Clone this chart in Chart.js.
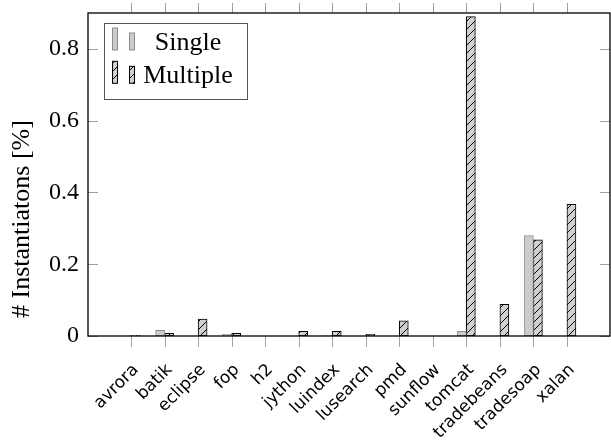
<!DOCTYPE html>
<html>
<head>
<meta charset="utf-8">
<script src="https://cdn.jsdelivr.net/npm/chart.js@4/dist/chart.umd.min.js"></script>
<style>
  html, body { margin: 0; padding: 0; background: #fff; }
  #wrap { width: 611px; height: 441px; }
</style>
</head>
<body>
<div id="wrap"><canvas id="c" width="611" height="441"></canvas></div>
<script>
const categories = ['avrora', 'batik', 'eclipse', 'fop', 'h2', 'jython', 'luindex', 'lusearch', 'pmd', 'sunflow', 'tomcat', 'tradebeans', 'tradesoap', 'xalan'];
const singleValues   = [0, 0.016, 0, 0.005, 0, 0, 0.001, 0, 0, 0, 0.013, 0, 0.28, 0];
const multipleValues = [0.002, 0.0075, 0.047, 0.0075, 0, 0.013, 0.013, 0.005, 0.042, 0, 0.89, 0.088, 0.268, 0.367];
const yTicks = [0, 0.2, 0.4, 0.6, 0.8];
const seriesNames = ['Single', 'Multiple'];
const yTitle = '# Instantiatons [%]';

function makeHatch(bg, line) {
  const s = 8;
  const c = document.createElement('canvas');
  c.width = s; c.height = s;
  const g = c.getContext('2d');
  g.fillStyle = bg; g.fillRect(0, 0, s, s);
  g.strokeStyle = line; g.lineWidth = 1;
  g.beginPath();
  g.moveTo(0, s); g.lineTo(s, 0);
  g.moveTo(-1, 1); g.lineTo(1, -1);
  g.moveTo(s - 1, s + 1); g.lineTo(s + 1, s - 1);
  g.stroke();
  return g.createPattern(c, 'repeat');
}

const SERIF = '"Liberation Serif", "Times New Roman", serif';
const hatch = makeHatch('#d0d0d0', '#000');

const framePlugin = {
  id: 'frame',
  afterDatasetsDraw(chart) {
    const { ctx, chartArea: a, scales } = chart;
    ctx.save();
    ctx.strokeStyle = '#a0a0a0';
    ctx.lineWidth = 1;
    ctx.beginPath();
    scales.y.ticks.forEach(t => {
      const y = Math.round(scales.y.getPixelForValue(t.value)) + 0.5;
      ctx.moveTo(a.left, y); ctx.lineTo(a.left + 10, y);
      ctx.moveTo(a.right - 10, y); ctx.lineTo(a.right, y);
    });
    scales.x.ticks.forEach(t => {
      const x = Math.round(scales.x.getPixelForValue(t.value)) + 0.5;
      ctx.moveTo(x, a.bottom); ctx.lineTo(x, a.bottom + 11);
      ctx.moveTo(x, a.top); ctx.lineTo(x, a.top - 10);
    });
    ctx.stroke();
    ctx.strokeStyle = '#000';
    ctx.lineWidth = 1.3;
    ctx.strokeRect(a.left, a.top, a.right - a.left, a.bottom - a.top);
    ctx.restore();
  },
  afterDraw(chart) {
    const { ctx } = chart;
    ctx.save();
    ctx.translate(22, 219);
    ctx.rotate(-Math.PI / 2);
    ctx.font = '26px ' + SERIF;
    ctx.fillStyle = '#000';
    ctx.textAlign = 'center';
    ctx.textBaseline = 'middle';
    ctx.fillText(yTitle, 0, 0);
    ctx.restore();

    ctx.save();
    const bx = 104, by = 23, bw = 143, bh = 76;
    ctx.fillStyle = '#fff';
    ctx.fillRect(bx, by, bw, bh);
    ctx.strokeStyle = '#555';
    ctx.lineWidth = 1;
    ctx.strokeRect(bx + 0.5, by + 0.5, bw, bh);
    chart.data.datasets.forEach((ds, i) => {
      const base = 50 + i * 33.3;
      [[112.5, 22], [129.5, 17]].forEach(([x, h]) => {
        ctx.fillStyle = ds.backgroundColor;
        ctx.fillRect(x, base - h, 5, h);
        ctx.strokeStyle = ds.borderColor;
        ctx.lineWidth = 1;
        ctx.strokeRect(x, base - h, 5, h);
      });
      ctx.fillStyle = '#000';
      ctx.font = '26px ' + SERIF;
      ctx.textAlign = 'center';
      ctx.textBaseline = 'alphabetic';
      ctx.fillText(ds.label, 188, base);
    });
    ctx.restore();
  }
};

new Chart(document.getElementById('c'), {
  type: 'bar',
  data: {
    datasets: [
      {
        label: seriesNames[0],
        data: singleValues.map((v, i) => ({ x: i, y: v })),
        backgroundColor: '#cccccc',
        borderColor: '#8c8c8c',
        borderWidth: 1,
        borderSkipped: false,
        barThickness: 9
      },
      {
        label: seriesNames[1],
        data: multipleValues.map((v, i) => ({ x: i, y: v })),
        backgroundColor: hatch,
        borderColor: '#000',
        borderWidth: 1,
        borderSkipped: false,
        barThickness: 9
      }
    ]
  },
  options: {
    responsive: false,
    animation: false,
    devicePixelRatio: 1,
    layout: { padding: { top: 13, right: 1, left: 0, bottom: 0 } },
    plugins: { legend: { display: false }, tooltip: { enabled: false } },
    scales: {
      x: {
        type: 'linear',
        min: -1.284,
        max: categories.length - 1 + 1.284,
        offset: false,
        afterBuildTicks: s => { s.ticks = categories.map((_, i) => ({ value: i })); },
        afterFit: s => { s.height = 105; s.paddingLeft = 0; s.paddingRight = 0; },
        grid: { display: false, drawTicks: false },
        border: { display: false },
        ticks: {
          autoSkip: false,
          minRotation: 45,
          maxRotation: 45,
          padding: 24,
          labelOffset: 5,
          color: '#000',
          font: { family: '"DejaVu Sans", sans-serif', size: 17 },
          callback: (v, i) => categories[i]
        }
      },
      y: {
        min: 0,
        max: 0.9,
        afterBuildTicks: s => { s.ticks = yTicks.map(v => ({ value: v })); },
        afterFit: s => { s.width = 88; s.paddingTop = 0; s.paddingBottom = 0; },
        grid: { display: false, drawTicks: false },
        border: { display: false },
        ticks: {
          padding: 9,
          color: '#000',
          font: { family: SERIF, size: 24 },
          callback: v => (v === 0 ? '0' : v.toFixed(1))
        }
      }
    }
  },
  plugins: [framePlugin]
});
</script>
</body>
</html>
